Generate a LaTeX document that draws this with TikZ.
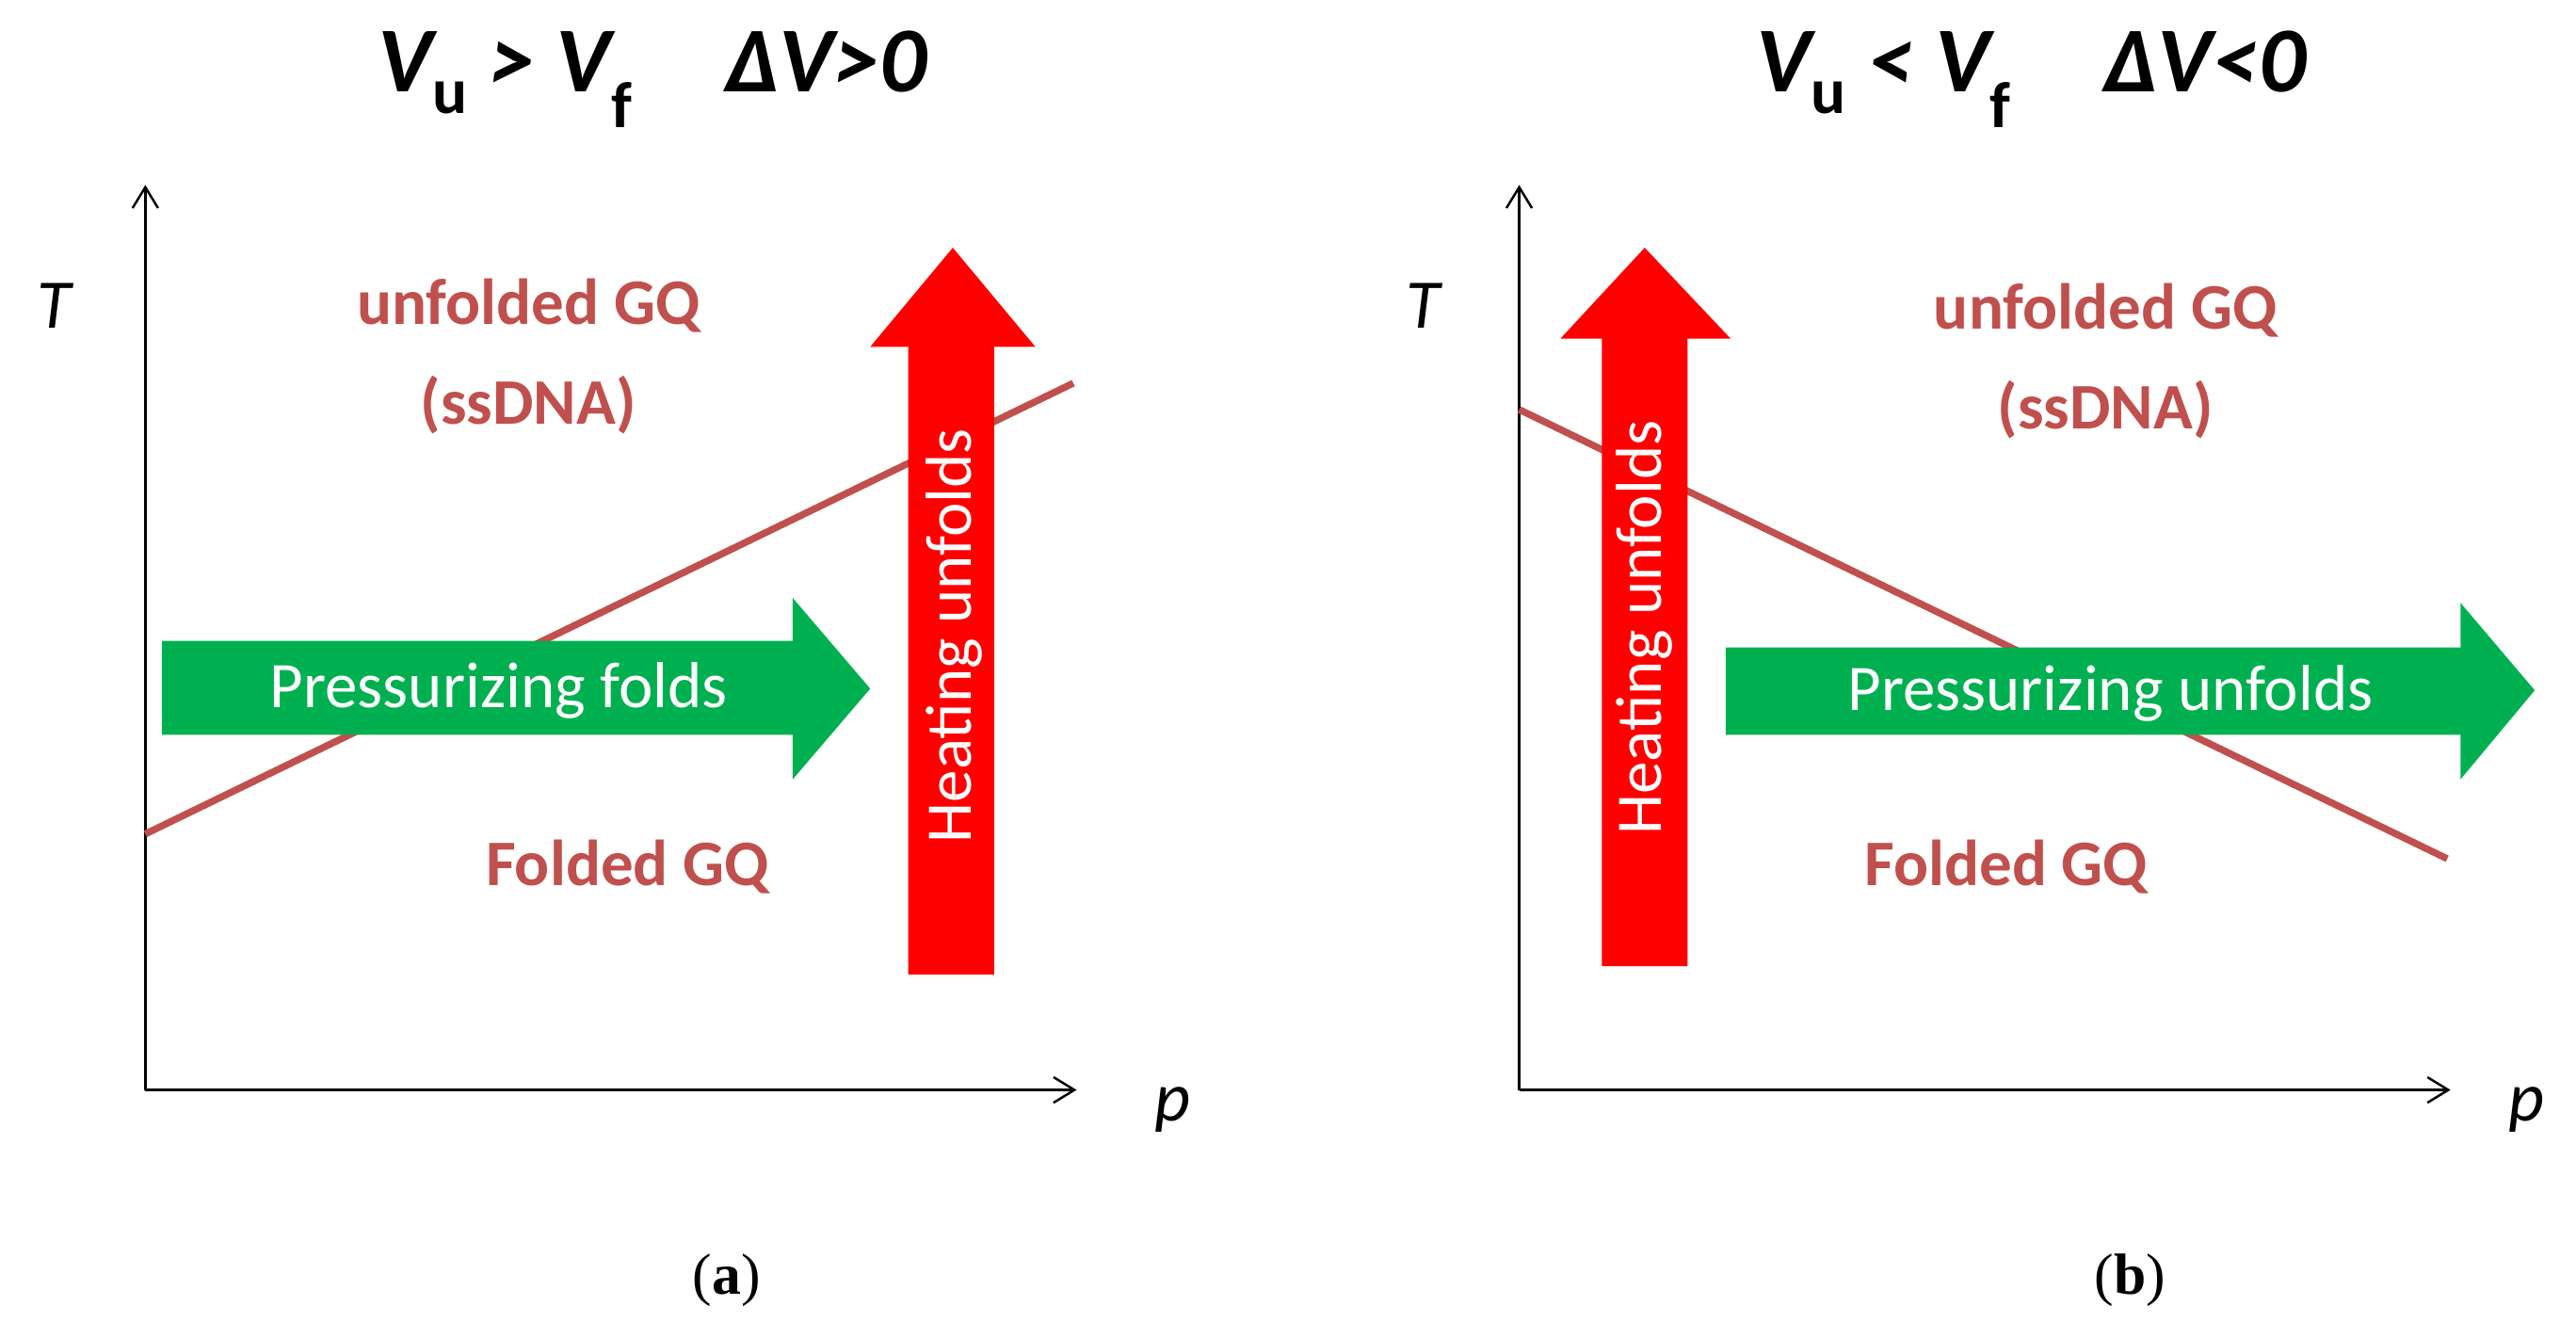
\documentclass[tikz,border=0pt]{standalone}
\usepackage{fontspec}
\usetikzlibrary{arrows.meta}
\setmainfont{Carlito}
\newfontfamily\capfont{Liberation Serif}
\definecolor{brn}{RGB}{192,80,77}
\definecolor{grn}{RGB}{0,176,80}
\newcommand{\Vsub}[1]{V\textsubscript{\upshape #1}}
\begin{document}
\begin{tikzpicture}[x=0.5mm,y=-0.5mm,
 lab/.style={text=brn,font=\fontsize{56}{60}\selectfont\bfseries},
 wt/.style={text=white,font=\fontsize{56}{60}\selectfont},
 ax/.style={line width=2pt,-{Straight Barb[length=18pt,width=22pt]}},
 ttl/.style={font=\fontsize{80}{90}\selectfont\bfseries\itshape},
 captxt/.style={font=\capfont\fontsize{50}{60}\selectfont},
 ph/.style={line width=6pt,brn}]
\useasboundingbox (0,0) rectangle (1560,810);
% panel a
\node[ttl] (ta) at (395,48) {\Vsub{u} > \Vsub{f}\quad ΔV>0};
\coordinate (oa) at (88,660); \coordinate (ya) at (88,112); \coordinate (xa) at (652,660);
\draw[ax] (oa) -- (ya); \draw[ax] (oa) -- (xa);
\node[font=\fontsize{60}{60}\selectfont\itshape] (Ta) at (33,185) {T};
\node[font=\fontsize{60}{60}\selectfont\itshape] (pa) at (710,672) {p};
\coordinate (la1) at (88,505); \coordinate (la2) at (650,232);
\draw[ph] (la1) -- (la2);
\node[lab] (ua) at (320,185) {unfolded GQ};
\node[lab] (sa) at (320,245) {(ssDNA)};
\node[lab] (fa) at (380,525) {Folded GQ};
\fill[grn] (98,388) -- (480,388) -- (480,362) -- (527,417) -- (480,472) -- (480,445) -- (98,445) -- cycle;
\node[wt] (ga) at (302,418) {Pressurizing folds};
\fill[red] (550,590) -- (550,210) -- (527,210) -- (577,150) -- (627,210) -- (602,210) -- (602,590) -- cycle;
\node[wt,rotate=90] (ra) at (578,385) {Heating unfolds};
\node[captxt] (ca) at (440,775) {(\textbf{a})};
% panel b
\node[ttl] (tb) at (1230,48) {\Vsub{u} < \Vsub{f}\quad ΔV<0};
\coordinate (ob) at (920,660); \coordinate (yb) at (920,112); \coordinate (xb) at (1484,660);
\draw[ax] (ob) -- (yb); \draw[ax] (ob) -- (xb);
\node[font=\fontsize{60}{60}\selectfont\itshape] (Tb) at (862,185) {T};
\node[font=\fontsize{60}{60}\selectfont\itshape] (pb) at (1530,672) {p};
\coordinate (lb1) at (920,248); \coordinate (lb2) at (1482,520);
\draw[ph] (lb1) -- (lb2);
\node[lab] (ub) at (1275,188) {unfolded GQ};
\node[lab] (sb) at (1275,248) {(ssDNA)};
\node[lab] (fb) at (1215,525) {Folded GQ};
\fill[red] (970,585) -- (970,205) -- (945,205) -- (996,150) -- (1048,205) -- (1022,205) -- (1022,585) -- cycle;
\node[wt,rotate=90] (rb) at (996,380) {Heating unfolds};
\fill[grn] (1045,392) -- (1490,392) -- (1490,365) -- (1535,418) -- (1490,472) -- (1490,445) -- (1045,445) -- cycle;
\node[wt] (gb) at (1278,420) {Pressurizing unfolds};
\node[captxt] (cb) at (1290,775) {(\textbf{b})};
\end{tikzpicture}
\end{document}
